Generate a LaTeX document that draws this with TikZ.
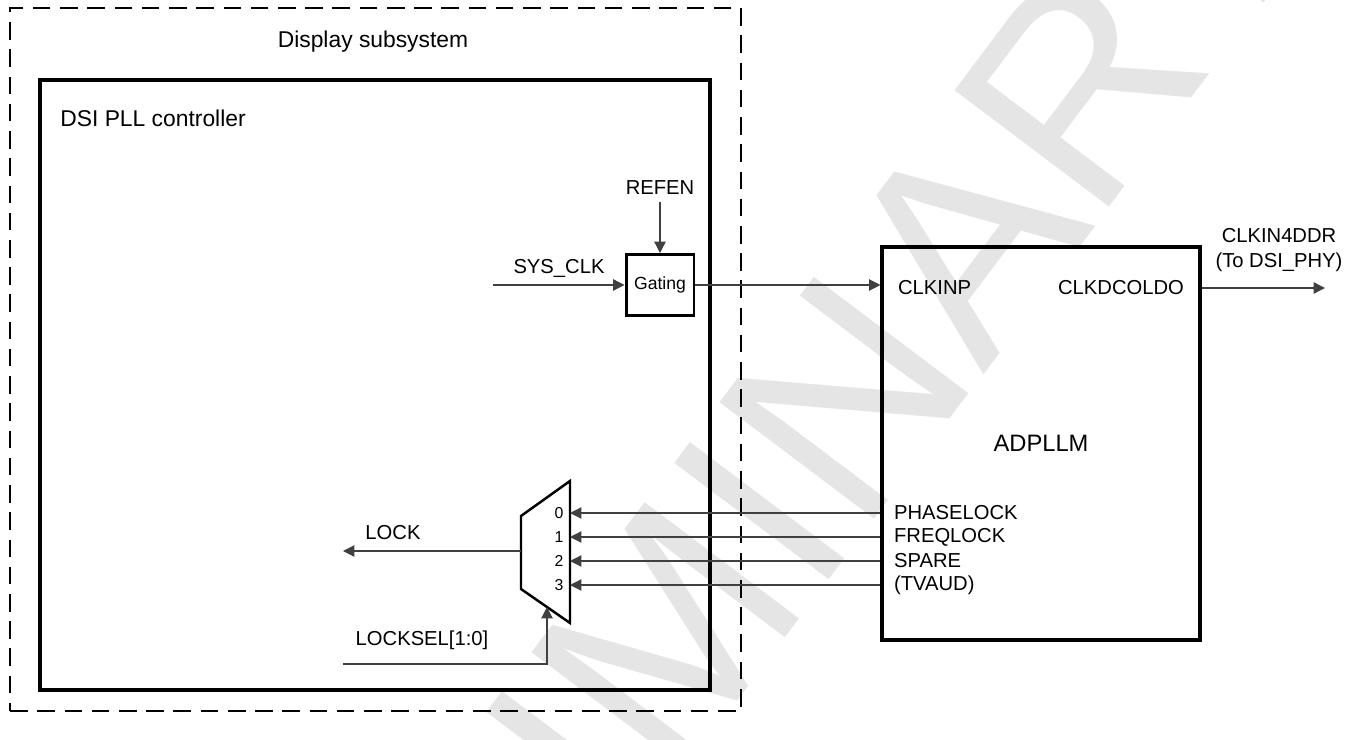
\documentclass[tikz,border=0pt]{standalone}
\usepackage{fontspec}
\setmainfont{Liberation Sans}
\usetikzlibrary{arrows.meta,positioning}
\tikzset{
  lbl/.style={font=\fontsize{11.5}{14}\selectfont, inner sep=1pt},
  ttl/.style={font=\fontsize{13}{15}\selectfont, inner sep=0pt},
  digit/.style={font=\fontsize{9}{10}\selectfont, inner sep=0pt},
  sig/.style={draw=black!75, line width=0.7pt, -{Triangle[length=6.5pt,width=6.5pt]}},
  wmark/.style={text=black!10, font=\fontsize{160}{160}\selectfont, inner sep=0pt},
}
\begin{document}
\begin{tikzpicture}[x=0.02cm, y=-0.02cm]
\useasboundingbox (0,0) rectangle (1356,740);
% Watermark
\node[wmark, rotate=53, anchor=base] (draft) at (756,677) {PRELIMINARY};

% Display subsystem and DSI PLL controller
\node[draw, dash pattern=on 10pt off 5.5pt, line width=1.1pt, minimum width=14.62cm, minimum height=14.06cm, inner sep=0pt] (dss) at (375.5,359.5) {};
\node[ttl] (dsslbl) at (373,42) {Display subsystem};
\node[draw, line width=2pt, minimum width=13.4cm, minimum height=12.2cm, inner sep=0pt] (ctrl) at (375,385) {};
\node[ttl, anchor=west] (ctrllbl) at (60,118) {DSI PLL controller};

% Gating
\node[draw, line width=1.7pt, minimum width=1.36cm, minimum height=1.22cm, inner sep=0pt, font=\fontsize{10}{12}\selectfont] (gate) at (660,285) {Gating};
\node[lbl] (refen) at (660,188) {REFEN};
\draw[sig, shorten <=3pt] (refen.south) -- (gate.north);
\node[lbl] (sysclk) at (559,268) {SYS\_CLK};
\coordinate (sysin) at (493,285);
\draw[sig] (sysin) -- (gate.west);

% ADPLLM
\node[draw, line width=1.8pt, minimum width=6.36cm, minimum height=7.86cm, inner sep=0pt, font=\fontsize{13.5}{15}\selectfont] (pll) at (1041,443.5) {ADPLLM};
\node[lbl, anchor=west] (clkinp) at (896,288) {CLKINP};
\node[lbl, anchor=east] (clkdco) at (1186,288) {CLKDCOLDO};
\draw[sig] (gate.east) -- (pll.west |- gate.east);
\coordinate (clkout) at (1325,288);
\draw[sig] (pll.east |- clkout) -- (clkout);
\node[lbl, align=center] (clk4ddr) at (1279,250) {CLKIN4DDR\\(To DSI\_PHY)};

% Lock multiplexer
\draw[line width=1.4pt] (521,516) -- (570,481) -- (570,623) -- (521,589) -- cycle;
\foreach \i/\y/\t in {0/513/PHASELOCK, 1/537/FREQLOCK, 2/561/SPARE, 3/585/{(TVAUD)}} {
  \node[lbl, anchor=west] (port\i) at (892,\y) {\t};
  \coordinate (mux\i) at (570,\y);
  \node[digit] (sel\i) at (559,\y) {\i};
  \draw[sig] (pll.west |- port\i) -- (mux\i);
}
\coordinate (muxout) at (521,551);
\coordinate (lockend) at (343,551);
\draw[sig] (muxout) -- (lockend);
\node[lbl] (lock) at (393,533) {LOCK};
\node[lbl] (locksel) at (422,640) {LOCKSEL[1:0]};
\coordinate (selin) at (343,664);
\coordinate (muxsel) at (547,607);
\draw[sig] (selin) -| (muxsel);
\end{tikzpicture}
\end{document}
